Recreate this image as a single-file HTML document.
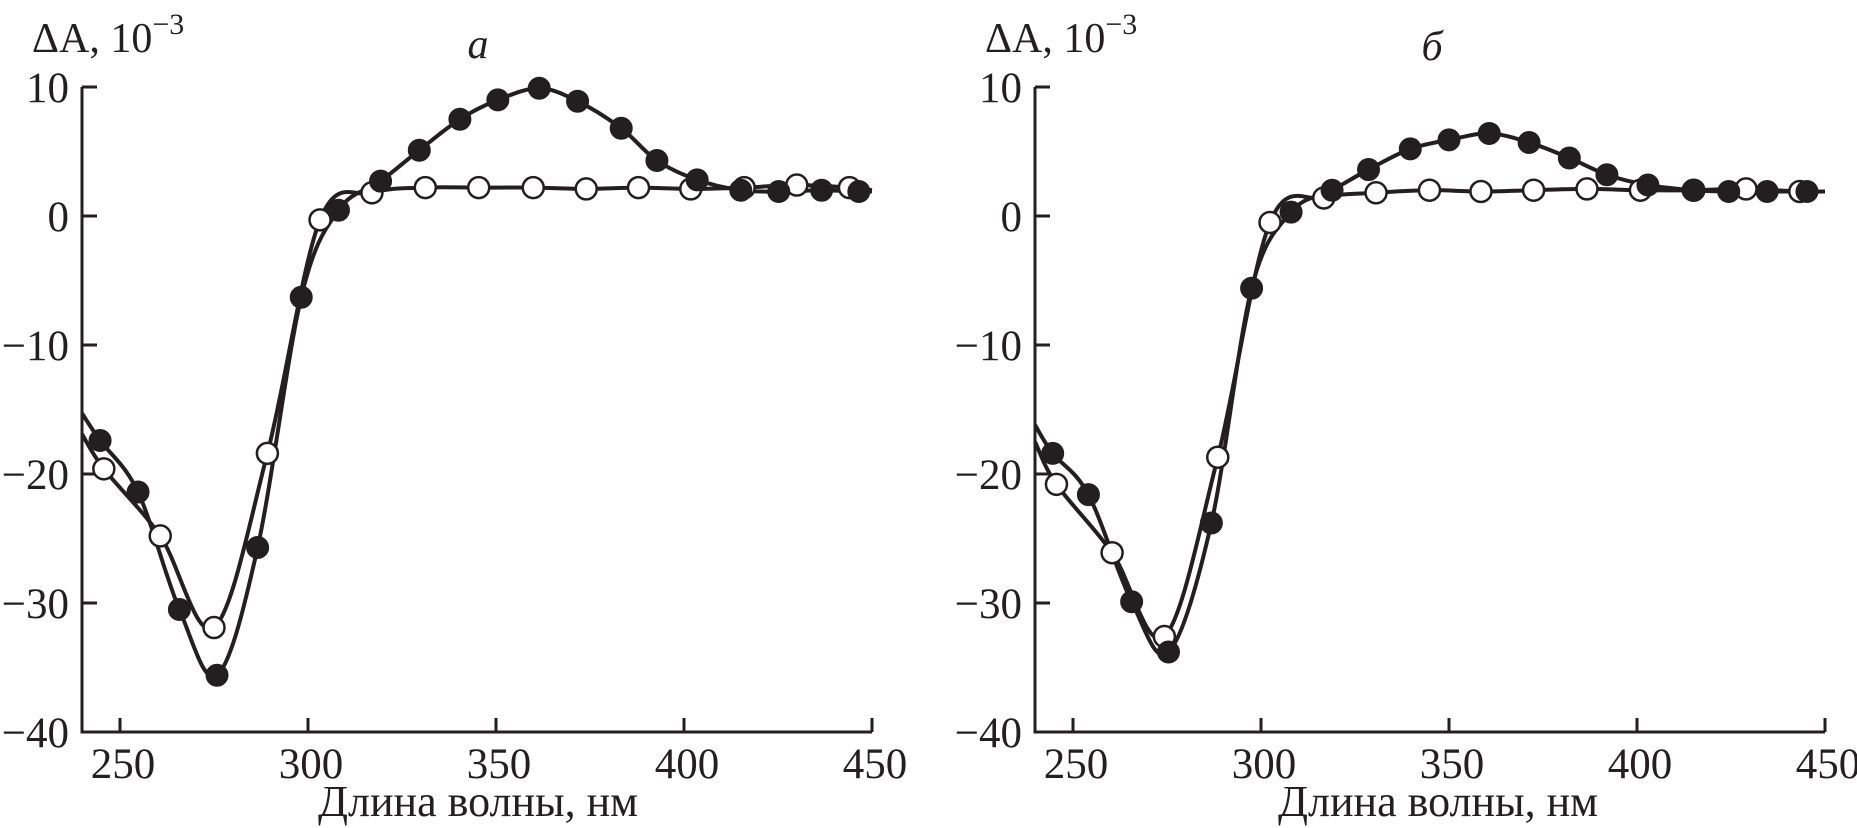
<!DOCTYPE html>
<html><head><meta charset="utf-8"><style>
html,body{margin:0;padding:0;background:#fff;}
svg{display:block;}
text{font-family:"Liberation Serif",serif;fill:#231f20;}
</style></head><body>
<svg id="chart" width="1857" height="828" viewBox="0 0 1857 828" xmlns="http://www.w3.org/2000/svg"></svg>
<script>
// ---- data ----
const xTicks = [250, 300, 350, 400, 450];
const yTicks = [10, 0, -10, -20, -30, -40];
const yTickLabels = ["10", "0", "\u221210", "\u221220", "\u221230", "\u221240"];

// panel a
const aFilledX = [244.7,254.8,265.8,275.8,286.6,298.2,308.1,319.3,329.6,340.4,350.5,361.5,371.7,383.3,392.8,403.5,415.1,425.2,436.6,446.5];
const aFilledY = [-17.4,-21.4,-30.5,-35.6,-25.7,-6.3,0.45,2.7,5.1,7.5,9.0,9.9,8.9,6.8,4.3,2.8,2.0,1.9,2.0,1.9];
const aFilledEnds = [-15.3, 1.9];
const aOpenX = [245.7,260.7,275.0,289.2,303.2,317.0,331.2,345.4,359.9,374.0,387.9,401.8,416.0,430.0,444.0];
const aOpenY = [-19.6,-24.8,-31.9,-18.4,-0.3,1.8,2.2,2.2,2.2,2.1,2.2,2.1,2.2,2.4,2.2];
const aOpenEnds = [-16.9, 2.0];

// panel б
const bFilledX = [244.6,254.1,265.6,275.4,286.8,297.5,308.0,318.9,328.6,339.7,350.0,360.7,371.3,382.0,392.0,402.9,414.9,424.4,434.6,445.2];
const bFilledY = [-18.4,-21.6,-29.9,-33.8,-23.8,-5.6,0.3,2.0,3.6,5.2,5.9,6.4,5.7,4.5,3.2,2.4,2.0,1.9,1.9,1.9];
const bFilledEnds = [-16.2, 1.9];
const bOpenX = [245.6,260.4,274.3,288.5,302.4,316.7,330.6,344.8,358.5,372.5,386.7,400.9,415.1,429.0,443.3];
const bOpenY = [-20.8,-26.1,-32.6,-18.7,-0.5,1.4,1.8,2.0,1.9,2.0,2.1,2.0,2.0,2.1,1.9];
const bOpenEnds = [-17.5, 1.9];

const xMin = 239.9, xMax = 450;
const yMin = -40, yMax = 10;

const svg = document.getElementById('chart');
const NS = 'http://www.w3.org/2000/svg';
function mk(tag, attrs, parent){
  const e = document.createElementNS(NS, tag);
  for (const k in attrs) e.setAttribute(k, attrs[k]);
  (parent||svg).appendChild(e);
  return e;
}

function catmull(pts){
  let d = 'M' + pts[0][0].toFixed(2) + ' ' + pts[0][1].toFixed(2);
  for (let i=0;i<pts.length-1;i++){
    const p0 = pts[Math.max(0,i-1)], p1 = pts[i], p2 = pts[i+1], p3 = pts[Math.min(pts.length-1,i+2)];
    const c1x = p1[0] + (p2[0]-p0[0])/6, c1y = p1[1] + (p2[1]-p0[1])/6;
    const c2x = p2[0] - (p3[0]-p1[0])/6, c2y = p2[1] - (p3[1]-p1[1])/6;
    d += ' C' + c1x.toFixed(2)+' '+c1y.toFixed(2)+' '+c2x.toFixed(2)+' '+c2y.toFixed(2)+' '+p2[0].toFixed(2)+' '+p2[1].toFixed(2);
  }
  return d;
}

function panel(cfg){
  const g = mk('g', {});
  
  
  const axisLeft = cfg.axisLeft, x250 = cfg.x250, ppn = 3.76;
  const xs = v => x250 + (v - 250) * ppn;
  const yTop = 87, yBot = 732;
  const ys = v => yBot - (v - yMin) / (yMax - yMin) * (yBot - yTop);
  const right = xs(xMax);

  const ax = mk('path', {d:`M${axisLeft} ${ys(yMax)} V${yBot} H${right}`, fill:'none', stroke:'#231f20', 'stroke-width':3}, g);
  
  

  yTicks.forEach((t, i) => {
    const y = ys(t);
    const tk = mk('line', {x1:axisLeft, x2:axisLeft+15, y1:y, y2:y, stroke:'#231f20', 'stroke-width':3}, g);
    
    
    const lb = mk('text', {x:axisLeft-13, y:y+15, 'text-anchor':'end', 'font-size':43}, g);
    lb.textContent = yTickLabels[i];
    
    
  });
  xTicks.forEach(t => {
    const x = xs(t);
    const tk = mk('line', {x1:x, x2:x, y1:yBot, y2:yBot-14, stroke:'#231f20', 'stroke-width':3}, g);
    
    
    const lb = mk('text', {x:x+3, y:778, 'text-anchor':'middle', 'font-size':43}, g);
    lb.textContent = String(t);
    
    
  });

  const yl = mk('text', {x:axisLeft-50, y:52, 'font-size':42}, g);
  yl.innerHTML = '\u0394A, 10<tspan dy="-18" font-size="30">\u22123</tspan>';
  
  

  const xl = mk('text', {x:cfg.titleX, y:816, 'text-anchor':'middle', 'font-size':44}, g);
  xl.textContent = 'Длина волны, нм';
  
  

  const pl = mk('text', {x:cfg.labelX, y:cfg.labelY, 'text-anchor':'middle', 'font-size':42, 'font-style':'italic'}, g);
  pl.textContent = cfg.label;
  
  

  function series(X, Y, ends, filled, nm){
    const pts = [[xs(xMin), ys(ends[0])]];
    X.forEach((v,i) => pts.push([xs(v), ys(Y[i])]));
    pts.push([xs(xMax), ys(ends[1])]);
    const p = mk('path', {d:catmull(pts), fill:'none', stroke:'#231f20', 'stroke-width':4, 'stroke-linejoin':'round'}, g);
    
    
    return () => X.forEach((v,i) => {
      const c = mk('circle', {cx:xs(v), cy:ys(Y[i]), r: filled ? 11 : 10.5, fill: filled ? '#231f20' : '#fff', stroke:'#231f20', 'stroke-width': filled ? 1 : 2.5}, g);
      
      
    });
  }
  const drawOpen = series(cfg.oX, cfg.oY, cfg.oE, false, 'open-series');
  const drawFilled = series(cfg.fX, cfg.fY, cfg.fE, true, 'filled-series');
  drawOpen();
  drawFilled();
}

panel({name:'panel-a', axisLeft:82, x250:120, titleX:478, labelX:478, labelY:58, label:'a',
  fX:aFilledX, fY:aFilledY, fE:aFilledEnds, oX:aOpenX, oY:aOpenY, oE:aOpenEnds});
panel({name:'panel-b', axisLeft:1035, x250:1073, titleX:1438, labelX:1432, labelY:60, label:'б',
  fX:bFilledX, fY:bFilledY, fE:bFilledEnds, oX:bOpenX, oY:bOpenY, oE:bOpenEnds});
</script>
</body></html>
